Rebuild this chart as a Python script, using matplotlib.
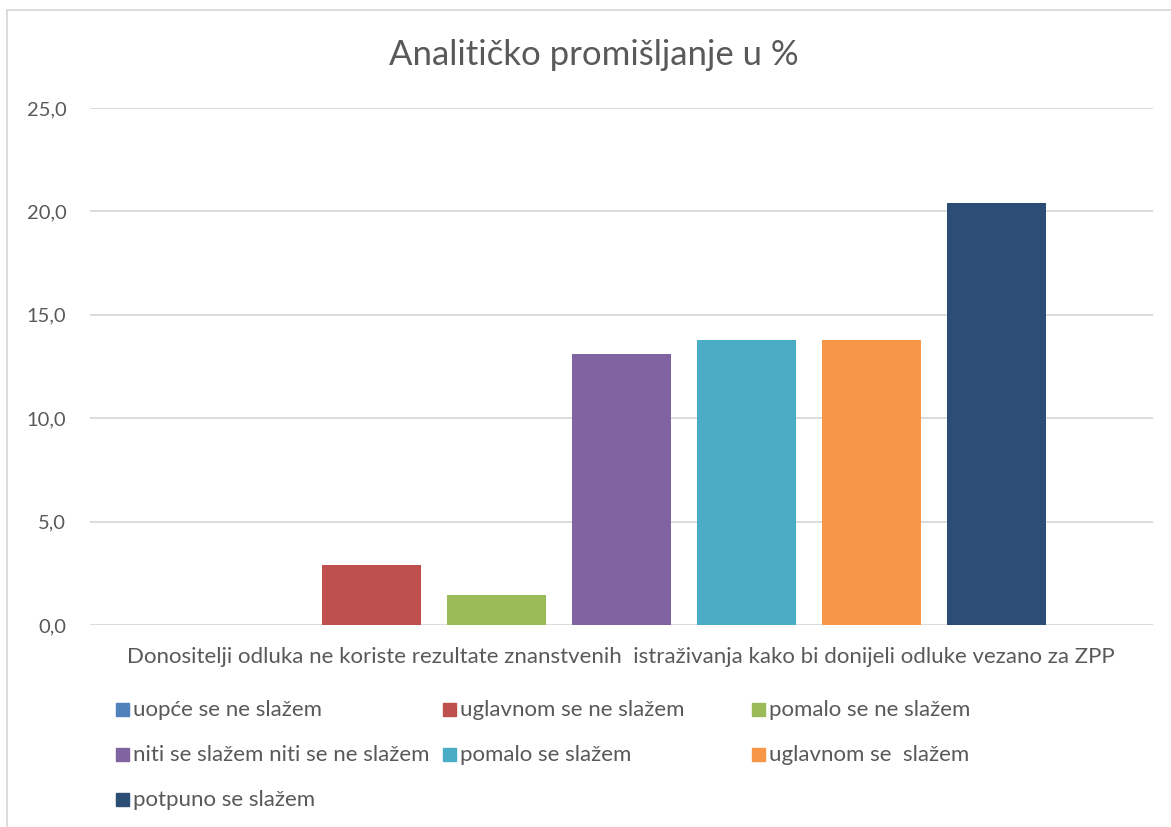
import matplotlib.pyplot as plt
from matplotlib.patches import Rectangle

plt.rcParams['font.family'] = ['Lato', 'DejaVu Sans']

labels = ["uopće se ne slažem", "uglavnom se ne slažem", "pomalo se ne slažem",
          "niti se slažem niti se ne slažem", "pomalo se slažem", "uglavnom se  slažem",
          "potpuno se slažem"]
values = [0.0, 2.9, 1.45, 13.1, 13.8, 13.8, 20.4]
colors = ["#4F81BD", "#C0504D", "#9BBB59", "#8064A2", "#4BACC6", "#F79646", "#2C4D75"]
category = "Donositelji odluka ne koriste rezultate znanstvenih  istraživanja kako bi donijeli odluke vezano za ZPP"
yticks = [0, 5, 10, 15, 20, 25]

W, H = 1171, 827
fig = plt.figure(figsize=(W / 100, H / 100), dpi=100)
ax = fig.add_axes([90 / W, 1 - 625 / H, (1153 - 90) / W, (625 - 108) / H])

x = list(range(len(values)))
ax.bar(x, values, width=0.79, color=colors, zorder=3)
ax.set_xlim(-1.25, 7.25)
ax.set_ylim(0, 25)
ax.set_yticks(yticks)
ax.set_yticklabels([f"{t:.1f}".replace(".", ",") for t in yticks])
ax.set_xticks([])
ax.tick_params(axis="y", length=0, pad=17, labelsize=14.5, labelcolor="#595959")
for s in ax.spines.values():
    s.set_visible(False)
ax.grid(axis="y", color="#D9D9D9", linewidth=1.3, zorder=0)

# title and category label
fig.text(594 / W, 1 - 55 / H, "Analitičko promišljanje u %", ha="center", va="center",
         fontsize=25, color="#595959")
fig.text(621 / W, 1 - 657 / H, category, ha="center", va="center", fontsize=16, color="#595959")

# legend, row-major like Excel
col_x = [116, 443, 752]
row_y = [710, 755, 800]
for i, (lab, c) in enumerate(zip(labels, colors)):
    r, k = divmod(i, 3)
    px, py = col_x[k], row_y[r]
    fig.add_artist(Rectangle((px / W, 1 - (py + 6) / H), 13 / W, 13 / H,
                             transform=fig.transFigure, color=c))
    fig.text((px + 17) / W, 1 - py / H, lab, ha="left", va="center", fontsize=16, color="#595959")

# chart border
fig.add_artist(Rectangle((7 / W, -0.05), 1.2, 1.05 - 10 / H, transform=fig.transFigure,
                         fill=False, edgecolor="#D9D9D9", linewidth=1.3))

fig.savefig("out.png", dpi=100)
